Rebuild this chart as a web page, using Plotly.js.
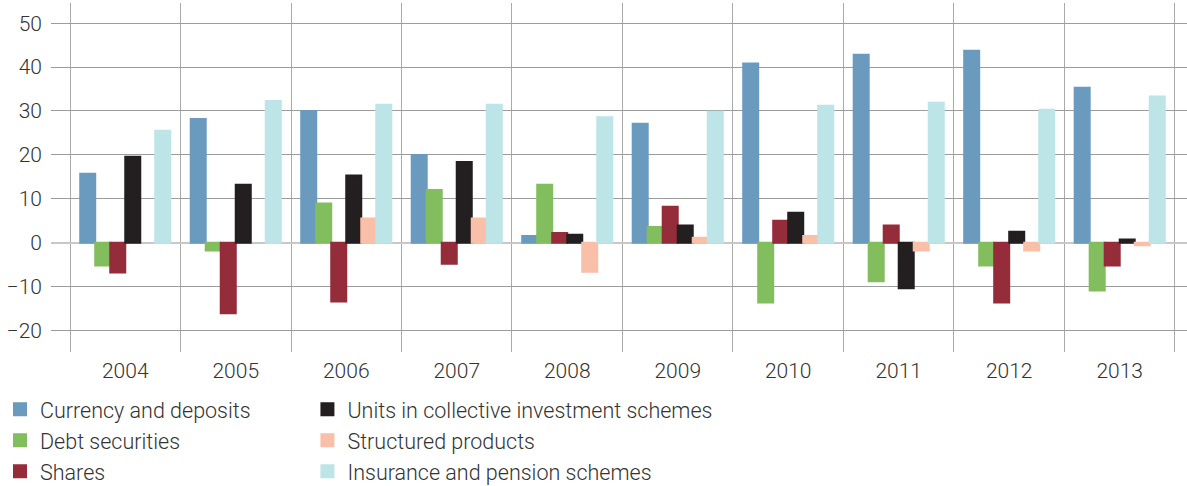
<!DOCTYPE html>
<html>
<head>
<meta charset="utf-8">
<script src="https://cdn.plot.ly/plotly-3.0.1.min.js"></script>
<style>html,body{margin:0;padding:0;background:#fff;}#chart{width:1187px;height:486px;}</style>
</head>
<body>
<div id="chart"></div>
<script>
const years = ['2004','2005','2006','2007','2008','2009','2010','2011','2012','2013'];
const currencyDeposits = [15.7, 28.2, 30.0, 20.0, 1.5, 27.1, 40.8, 42.8, 43.7, 35.3];
const debtSecurities   = [-5.2, -1.8, 8.9, 12.0, 13.2, 3.6, -13.6, -8.8, -5.2, -10.9];
const shares           = [-6.8, -16.1, -13.4, -4.8, 2.2, 8.2, 5.0, 3.9, -13.6, -5.2];
const collectiveUnits  = [19.6, 13.2, 15.3, 18.4, 1.8, 3.9, 6.8, -10.4, 2.5, 0.7];
const structuredProds  = [null, null, 5.5, 5.5, -6.6, 1.1, 1.5, -1.8, -1.8, -0.6];
const insurancePension = [25.5, 32.3, 31.4, 31.4, 28.6, 29.8, 31.2, 31.9, 30.3, 33.3];
const yTicks = [-20, -10, 0, 10, 20, 30, 40, 50];

const seriesDefs = [
  {name: 'Currency and deposits', y: currencyDeposits, color: '#6A9BBF', legend: 'legend'},
  {name: 'Debt securities', y: debtSecurities, color: '#82BD5E', legend: 'legend'},
  {name: 'Shares', y: shares, color: '#952C3A', legend: 'legend'},
  {name: 'Units in collective investment schemes', y: collectiveUnits, color: '#231F20', legend: 'legend2'},
  {name: 'Structured products', y: structuredProds, color: '#F9BFA8', legend: 'legend2'},
  {name: 'Insurance and pension schemes', y: insurancePension, color: '#BDE4E6', legend: 'legend2'}
];

const data = seriesDefs.map((s, i) => ({
  type: 'bar',
  name: s.name,
  x: years,
  y: s.y,
  legend: s.legend,
  legendgroup: 'g' + i,
  marker: {color: s.color, line: {color: s.color, width: 2}},
  hoverinfo: 'x+y+name'
}));

const fontFam = 'Roboto, "Liberation Sans", Arial, sans-serif';
const legendCommon = {
  orientation: 'v',
  xref: 'container', yref: 'container',
  xanchor: 'left', yanchor: 'top',
  font: {family: fontFam, size: 21.5, color: '#333', weight: 300},
  tracegroupgap: 0,
  bgcolor: 'rgba(0,0,0,0)',
  itemclick: false
};

const layout = {
  width: 1187, height: 486,
  margin: {l: 51, r: 0, t: 3, b: 134, autoexpand: false},
  paper_bgcolor: '#fff', plot_bgcolor: '#fff',
  barmode: 'group', bargap: 0.185, bargroupgap: 0,
  font: {family: fontFam, color: '#333'},
  showlegend: true,
  legend: Object.assign({}, legendCommon, {x: 0, y: 0.2}),
  legend2: Object.assign({}, legendCommon, {x: 0.259, y: 0.2}),
  xaxis: {
    type: 'category',
    range: [-0.672, 9.609],
    tickson: 'boundaries',
    showgrid: true, gridcolor: '#AAAAAA', gridwidth: 1,
    ticks: '', showline: false, zeroline: false,
    tickfont: {family: fontFam, size: 21, color: '#333', weight: 300},
    ticklabelstandoff: 4
  },
  yaxis: {
    range: [-24.9, 54.6],
    tickvals: yTicks,
    showgrid: true, gridcolor: '#9C9C9C', gridwidth: 1,
    zeroline: true, zerolinecolor: '#C8C8C8', zerolinewidth: 2,
    ticks: '', showline: false,
    tickfont: {family: fontFam, size: 21, color: '#333', weight: 300},
    ticklabelstandoff: 8
  }
};

Plotly.newPlot('chart', data, layout, {displayModeBar: false, staticPlot: true});
</script>
</body>
</html>
